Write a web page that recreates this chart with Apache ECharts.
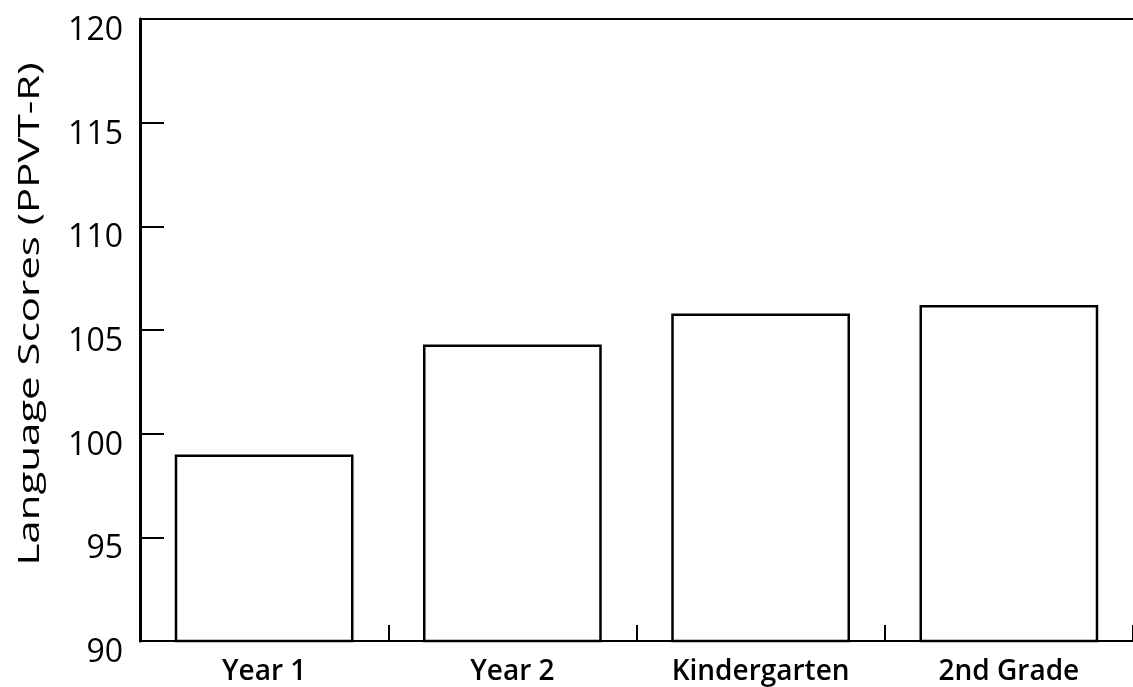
<!DOCTYPE html>
<html>
<head>
<meta charset="utf-8">
<script src="https://cdn.jsdelivr.net/npm/echarts@6/dist/echarts.min.js"></script>
<style>
  html, body { margin: 0; padding: 0; background: #fff; }
  #chart { width: 1133px; height: 687px; }
</style>
</head>
<body>
<div id="chart"></div>
<script>
// categories and mean scores
var categories = ['Year 1', 'Year 2', 'Kindergarten', '2nd Grade'];
var scores = [99.0, 104.3, 105.8, 106.2];
var yTicks = [90, 95, 100, 105, 110, 115, 120];
var yTitle = 'Language Scores (PPVT-R)';

var chart = echarts.init(document.getElementById('chart'));
var font = '"Open Sans", "Noto Sans", sans-serif';

chart.setOption({
  animation: false,
  grid: { left: 140, right: -3, top: 19, bottom: 46 },
  // the scanned title is drawn wide, so stretch it along its length
  graphic: [{
    type: 'text',
    x: 30,
    y: 314,
    rotation: Math.PI / 2,
    scaleX: 1.4,
    style: {
      text: yTitle,
      fill: '#000',
      font: '30px "Open Sans", "Noto Sans", sans-serif',
      align: 'center',
      verticalAlign: 'middle'
    }
  }],
  xAxis: [{
    type: 'category',
    data: categories,
    axisLine: { lineStyle: { color: '#000', width: 2 } },
    axisTick: { show: true, inside: true, length: 16, lineStyle: { color: '#000', width: 2 } },
    axisLabel: { color: '#000', fontFamily: font, fontWeight: 600, fontSize: 28, margin: 17 }
  }, {
    // top border only
    type: 'category',
    position: 'top',
    data: categories,
    axisLine: { show: true, lineStyle: { color: '#000', width: 2 } },
    axisTick: { show: false },
    axisLabel: { show: false }
  }],
  yAxis: {
    type: 'value',
    min: yTicks[0],
    max: yTicks[yTicks.length - 1],
    interval: 5,
    axisLine: { show: true, lineStyle: { color: '#000', width: 3 } },
    axisTick: { show: true, inside: true, length: 24, lineStyle: { color: '#000', width: 2 } },
    axisLabel: {
      margin: 17,
      formatter: function(v) { return '{v|' + v + '}'; },
      rich: {
        v: { color: '#000', fontFamily: font, fontSize: 32, padding: [24, 0, 0, 0] }
      }
    },
    splitLine: { show: false }
  },
  series: [{
    type: 'bar',
    data: scores,
    barCategoryGap: '28%',
    itemStyle: { color: '#fff', borderColor: '#000', borderWidth: 2.5 }
  }]
});
</script>
</body>
</html>
